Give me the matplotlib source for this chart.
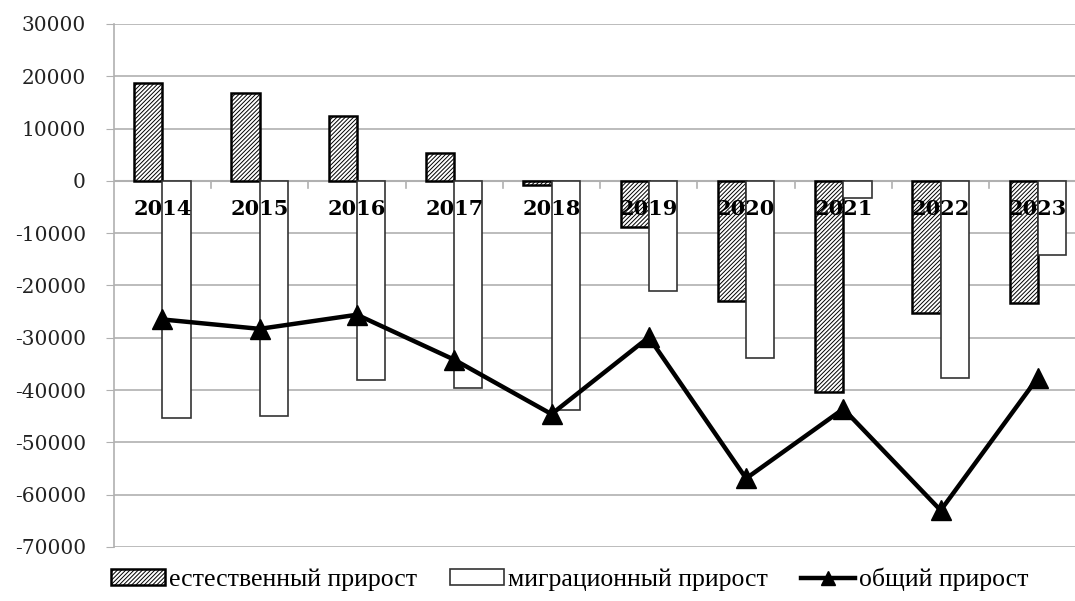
import numpy as np
import matplotlib.pyplot as plt

years = ['2014', '2015', '2016', '2017', '2018', '2019', '2020', '2021', '2022', '2023']
natural = [18800, 16800, 12400, 5400, -800, -8900, -23000, -40300, -25300, -23400]
migration = [-45300, -45000, -38000, -39600, -43900, -21000, -33900, -3300, -37700, -14200]
total = [-26500, -28300, -25600, -34200, -44600, -29900, -56900, -43600, -63000, -37600]

plt.rcParams['hatch.linewidth'] = 0.7
plt.rcParams['hatch.color'] = '#222222'

fig = plt.figure(figsize=(10.75, 6.01), dpi=100)
ax = fig.add_axes([0.1058, 0.0899, 0.905, 0.8703])

x = np.arange(len(years))
w = 0.29

b1 = ax.bar(x - w / 2, natural, width=w, color='white', edgecolor='black',
            linewidth=1.8, hatch='////////', label='естественный прирост', zorder=3)
b2 = ax.bar(x + w / 2, migration, width=w, color='white', edgecolor='#333333',
            linewidth=1.2, label='миграционный прирост', zorder=3)
l1, = ax.plot(x, total, color='black', linewidth=3.2, marker='^', markersize=14,
              label='общий прирост', zorder=4)

ax.set_xlim(-0.5, len(years) - 0.5)
ax.set_ylim(-70000, 30000)
ax.set_yticks(np.arange(-70000, 30001, 10000))
ax.set_yticklabels([str(v) for v in range(-70000, 30001, 10000)],
                   fontfamily='DejaVu Serif', fontsize=14.5, color='#222222')
ax.yaxis.grid(True, color='#b0b0b0', linewidth=1.2, zorder=0)
ax.set_axisbelow(True)
ax.tick_params(axis='y', length=6, color='#b0b0b0', pad=14)

# category boundary ticks along the zero line
ax.set_xticks([])
ax.axhline(0, color='#b0b0b0', linewidth=1.5, zorder=2)
for b in np.arange(0.5, len(years) - 0.5, 1):
    ax.plot([b, b], [0, -1300], color='#b0b0b0', linewidth=1.2, zorder=2)

for xi, yr in zip(x, years):
    ax.text(xi, -5300, yr, ha='center', va='center', fontfamily='DejaVu Serif',
            fontweight='bold', fontsize=15, zorder=5)

for s in ['top', 'right', 'bottom']:
    ax.spines[s].set_visible(False)
ax.spines['left'].set_color('#b0b0b0')
ax.spines['left'].set_linewidth(1.2)

fig.legend([b1, b2, l1], ['естественный прирост', 'миграционный прирост', 'общий прирост'],
           loc='lower center', bbox_to_anchor=(0.53, -0.022), ncol=3, frameon=False,
           prop={'family': 'Liberation Serif', 'size': 18.5}, handlelength=2.1,
           handleheight=0.55, handletextpad=0.15, columnspacing=1.3, markerscale=0.75)

fig.savefig('out.png', dpi=100)
